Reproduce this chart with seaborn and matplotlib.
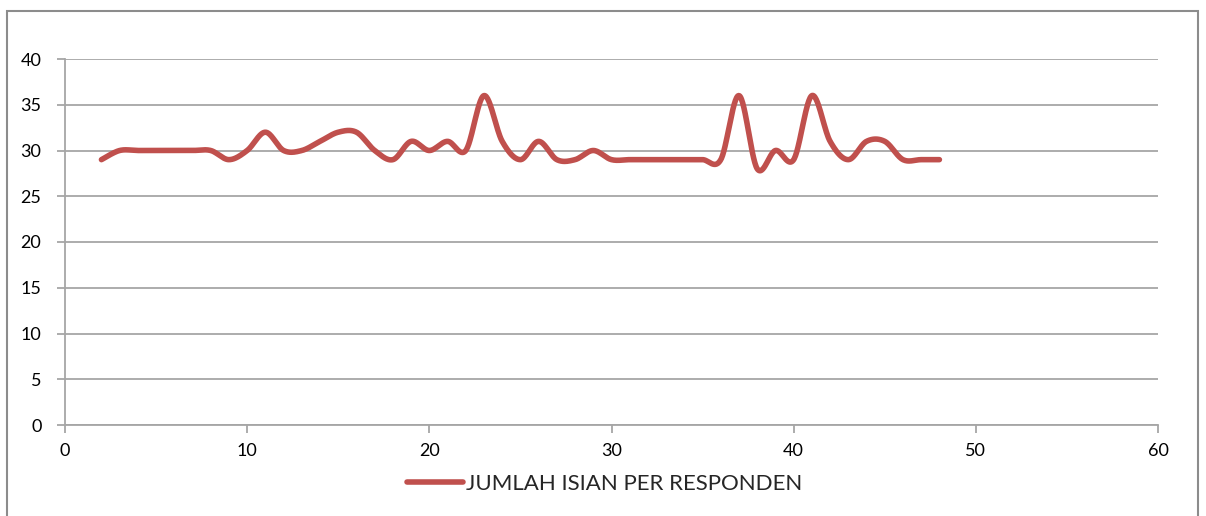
import numpy as np
import pandas as pd
import matplotlib
matplotlib.use("Agg")
import matplotlib.pyplot as plt
from matplotlib.patches import Rectangle
from matplotlib.lines import Line2D
import seaborn as sns

# ---- data ----
responden = list(range(2, 49))
jumlah_isian = [29, 30, 30, 30, 30, 30, 30, 29, 30, 32,
                30, 30, 31, 32, 32, 30, 29, 31, 30, 31,
                30, 36, 31, 29, 31, 29, 29, 30, 29, 29,
                29, 29, 29, 29, 29, 36, 28, 30, 29, 36,
                31, 29, 31, 31, 29, 29, 29]
series_label = "JUMLAH ISIAN PER RESPONDEN"
x_ticks = [0, 10, 20, 30, 40, 50, 60]
y_ticks = [0, 5, 10, 15, 20, 25, 30, 35, 40]

LINE_COLOR = "#C0504D"
GRID_COLOR = "#A6A6A6"

sns.set_theme(style="white")
plt.rcParams['font.family'] = ['Lato', 'DejaVu Sans']


def smooth(x, y, n=30):
    """Catmull-Rom style smoothing like Excel's smoothed line rendering."""
    x = np.asarray(x, float)
    y = np.asarray(y, float)
    px = np.concatenate([[x[0]], x, [x[-1]]])
    py = np.concatenate([[y[0]], y, [y[-1]]])
    xs, ys = [], []
    t = np.linspace(0, 1, n, endpoint=False)
    for i in range(1, len(px) - 2):
        p0, p1, p2, p3 = (np.array([px[j], py[j]]) for j in (i - 1, i, i + 1, i + 2))
        c1 = p1 + (p2 - p0) / 6.0
        c2 = p2 - (p3 - p1) / 6.0
        b = ((1 - t) ** 3)[:, None] * p1 + (3 * (1 - t) ** 2 * t)[:, None] * c1 \
            + (3 * (1 - t) * t ** 2)[:, None] * c2 + (t ** 3)[:, None] * p2
        xs.append(b[:, 0]); ys.append(b[:, 1])
    xs.append([x[-1]]); ys.append([y[-1]])
    return np.concatenate(xs), np.concatenate(ys)


sx, sy = smooth(responden, jumlah_isian)
df = pd.DataFrame({"x": sx, "y": sy})

fig = plt.figure(figsize=(12.06, 5.16), dpi=100)
W, H = 1206, 516
ax = fig.add_axes([65 / W, (H - 425) / H, (1158 - 65) / W, (425 - 59) / H])

sns.lineplot(data=df, x="x", y="y", ax=ax, color=LINE_COLOR, linewidth=4,
             sort=False, estimator=None, solid_capstyle="round", zorder=3)

ax.set_xlim(0, 60)
ax.set_ylim(0, 40)
ax.set_xticks(x_ticks)
ax.set_yticks(y_ticks)
ax.set_xticklabels([str(v) for v in x_ticks])
ax.set_yticklabels([str(v) for v in y_ticks])
ax.set_xlabel("")
ax.set_ylabel("")

ax.yaxis.grid(True, color=GRID_COLOR, linewidth=1.3)
ax.xaxis.grid(False)
for s in ["top", "right"]:
    ax.spines[s].set_visible(False)
for s in ["left", "bottom"]:
    ax.spines[s].set_color(GRID_COLOR)
    ax.spines[s].set_linewidth(1.3)
ax.tick_params(axis="both", which="both", length=6, width=1.3, color=GRID_COLOR,
               direction="out", labelsize=13, labelcolor="black")
ax.tick_params(axis="y", pad=11)
ax.tick_params(axis="x", pad=7)
ax.tick_params(left=True, bottom=True)

handle = Line2D([0], [0], color=LINE_COLOR, linewidth=4, solid_capstyle="round")
fig.legend([handle], [series_label], loc="center", bbox_to_anchor=(605 / W, 1 - 484 / H),
           frameon=False, fontsize=16, handlelength=2.5, handletextpad=0.15,
           borderpad=0.2)

fig.patches.append(Rectangle((7 / W, -0.01), (1198 - 7) / W, 1 - 11 / H + 0.01,
                             transform=fig.transFigure, fill=False,
                             edgecolor="#8C8C8C", linewidth=1.5))

fig.savefig("out.png", dpi=100)
